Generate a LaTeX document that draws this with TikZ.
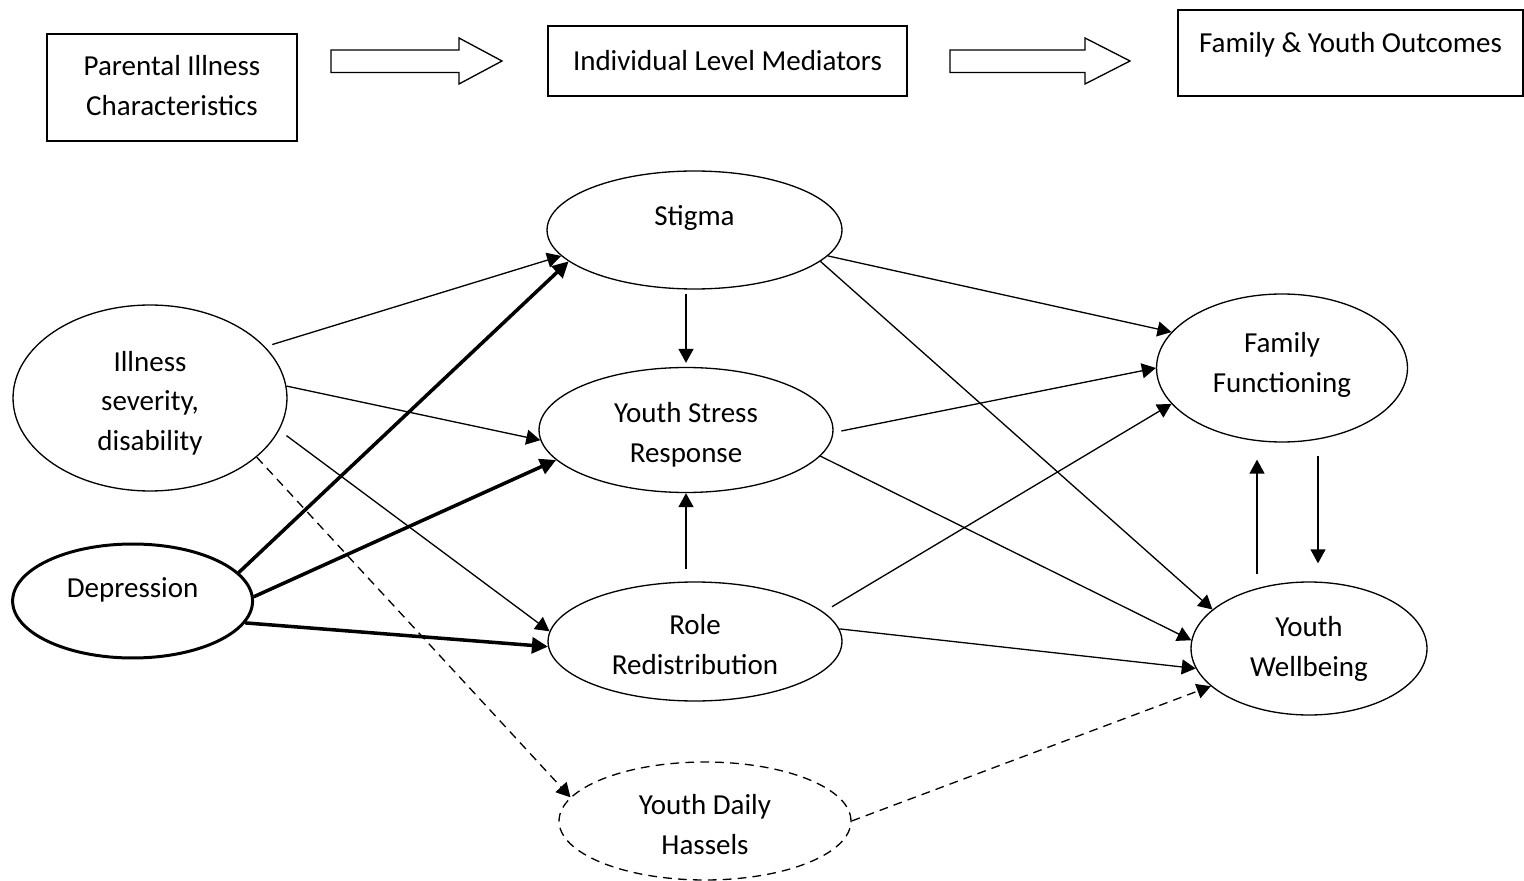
\documentclass[tikz,border=0pt]{standalone}
\usepackage{fontspec}
\setmainfont{Carlito}
\usetikzlibrary{shapes.geometric,arrows.meta}

\newcommand{\lift}[2]{\raisebox{#1}[\height][\depth]{\begin{tabular}{@{}c@{}}#2\end{tabular}}}

\tikzset{
  box/.style={draw, rectangle, line width=0.8pt, align=center, inner sep=0pt},
  oval/.style={draw, ellipse, line width=0.75pt, align=center, inner sep=0pt},
  lnk/.style={-{Triangle[length=0.28cm,width=0.3cm]}, line width=0.75pt},
  heavy/.style={-{Triangle[length=0.32cm,width=0.32cm]}, line width=2pt},
  dashlnk/.style={lnk, dash pattern=on 5pt off 3.5pt},
  fat/.style={draw, line width=0.75pt, line join=miter},
}

\begin{document}
\begin{tikzpicture}[x=0.02cm, y=-0.02cm, font=\fontsize{16.5}{22.7}\selectfont]
\useasboundingbox (0,0) rectangle (1524,881);

% header row
\node (par) at (172,87.5) [box, minimum width=5cm, minimum height=2.14cm] {\lift{0cm}{Parental Illness\\Characteristics}};
\node (ind) at (727.5,61) [box, minimum width=7.18cm, minimum height=1.4cm] {Individual Level Mediators};
\node (out) at (1350.5,53) [box, minimum width=6.9cm, minimum height=1.72cm] {\lift{0.16cm}{Family \& Youth Outcomes}};

\draw[fat] (331,50) -- (459,50) -- (459,38) -- (502,61) -- (459,84) -- (459,72.5) -- (331,72.5) -- cycle;
\draw[fat] (950,50) -- (1085,50) -- (1085,38) -- (1130,61) -- (1085,84) -- (1085,72.5) -- (950,72.5) -- cycle;

% model
\node (stig) at (694.5,230) [oval, minimum width=5.9cm, minimum height=2.36cm] {\lift{0.25cm}{Stigma}};
\node (ill) at (150,398) [oval, minimum width=5.48cm, minimum height=3.72cm] {\lift{-0.1cm}{Illness\\severity,\\disability}};
\node (dep) at (132.6,601) [oval, line width=1.7pt, minimum width=4.8cm, minimum height=2.28cm] {\lift{0.22cm}{Depression}};
\node (ysr) at (686,430) [oval, minimum width=5.88cm, minimum height=2.5cm] {\lift{-0.09cm}{Youth Stress\\Response}};
\node (role) at (695,641.5) [oval, minimum width=5.88cm, minimum height=2.38cm] {\lift{-0.1cm}{Role\\Redistribution}};
\node (hass) at (705,821) [oval, dash pattern=on 5pt off 3.5pt, minimum width=5.84cm, minimum height=2.36cm] {\lift{-0.11cm}{Youth Daily\\Hassels}};
\node (fam) at (1282,368) [oval, minimum width=5.02cm, minimum height=2.96cm] {\lift{0.07cm}{Family\\Functioning}};
\node (yw) at (1309,648.5) [oval, minimum width=4.72cm, minimum height=2.66cm] {Youth\\Wellbeing};

\draw[lnk, shorten <=0.15cm] (ill.24) -- (stig.191);
\draw[lnk] (ill.5) -- (ysr.184);
\draw[lnk, shorten <=0.18cm] (ill.-14) -- (role.176);
\draw[dashlnk] (ill.-29) -- (hass.170);

\draw[heavy] (dep.15) -- (stig.194);
\draw[heavy] (dep.2) -- (ysr.193);
\draw[heavy] (dep.-11) -- (role.182);

\draw[lnk, shorten <=0.08cm, shorten >=0.08cm] (ysr.north |- stig.south) -- (ysr.north);
\draw[lnk, shorten <=0.24cm] (ysr.south |- role.north) -- (ysr.south);

\draw[lnk] (stig.-11) -- (fam.162);
\draw[lnk] (stig.-14) -- (yw.158);
\draw[lnk, shorten <=0.16cm] (ysr.-1) -- (fam.west);
\draw[lnk] (ysr.-11) -- (yw.176);
\draw[lnk, shorten <=0.2cm] (role.13) -- (fam.198);
\draw[lnk] (role.5) -- (yw.190);
\draw[dashlnk] (hass.east) -- (yw.201);

\draw[lnk, shorten <=0.14cm, shorten >=0.34cm] ([xshift=-1.04cm]yw.north) -- ([xshift=-1.04cm]yw.north |- fam.south);
\draw[lnk, shorten <=0.26cm, shorten >=0.36cm] ([xshift=0.72cm]fam.south) -- ([xshift=0.72cm]fam.south |- yw.north);
\end{tikzpicture}
\end{document}
